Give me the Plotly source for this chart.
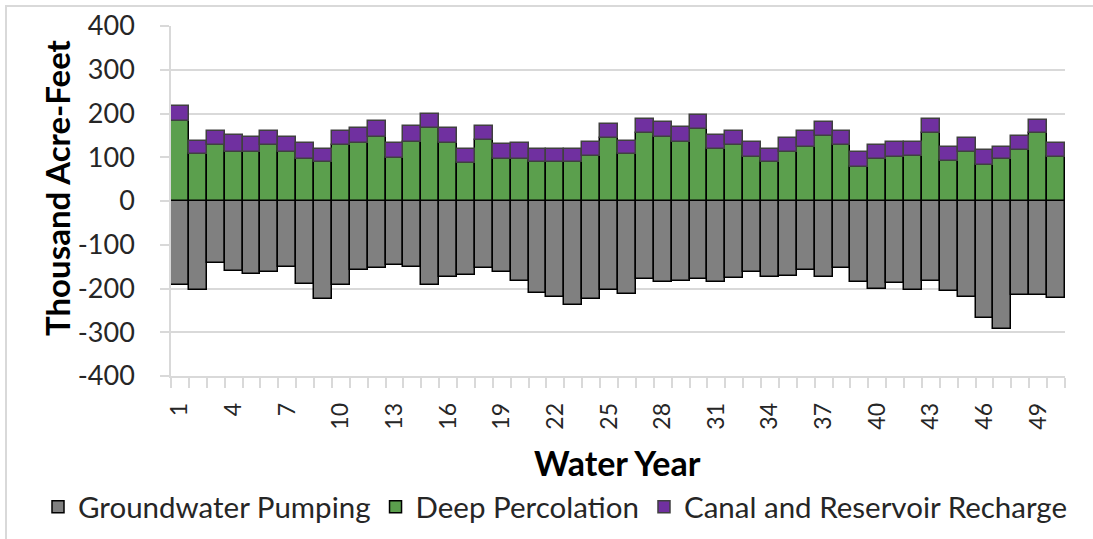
import plotly.graph_objects as go

years = list(range(1, 51))

groundwater_pumping = [
    -193, -203, -142, -160, -166, -162, -151, -190, -225, -193,
    -158, -154, -146, -151, -193, -174, -168, -154, -162, -182,
    -210, -219, -237, -224, -203, -213, -179, -186, -182, -179,
    -186, -176, -163, -174, -171, -158, -174, -152, -184, -200,
    -187, -203, -182, -205, -219, -267, -293, -215, -215, -221,
]

deep_percolation = [
    183, 107, 127, 113, 113, 127, 113, 95, 89, 127,
    133, 147, 98, 136, 168, 133, 86, 139, 95, 95,
    89, 89, 89, 104, 145, 107, 156, 147, 136, 165,
    119, 127, 101, 89, 113, 124, 148, 128, 78, 95,
    101, 104, 156, 92, 113, 83, 95, 116, 156, 101,
]

canal_reservoir_recharge = [
    35, 31, 34, 37, 33, 34, 33, 38, 31, 32,
    35, 35, 35, 35, 31, 35, 34, 32, 35, 38,
    29, 29, 29, 32, 32, 31, 31, 33, 34, 32,
    31, 34, 35, 31, 32, 35, 32, 31, 35, 32,
    35, 32, 32, 32, 32, 33, 29, 32, 30, 32,
]

x_tick_vals = list(range(1, 51, 3))
x_tick_labels = [str(v) for v in x_tick_vals]
y_tick_vals = list(range(-400, 401, 100))
y_tick_labels = [str(v) for v in y_tick_vals]

FONT = "Lato"
GRID = "#d9d9d9"

fig = go.Figure()
fig.add_trace(go.Bar(
    x=years, y=groundwater_pumping, name="Groundwater Pumping",
    marker=dict(color="#808080", line=dict(color="#000000", width=1.5)),
))
fig.add_trace(go.Bar(
    x=years, y=deep_percolation, name="Deep Percolation",
    marker=dict(color="#5b9f4d", line=dict(color="#000000", width=1.5)),
))
fig.add_trace(go.Bar(
    x=years, y=canal_reservoir_recharge, name="Canal and Reservoir Recharge",
    marker=dict(color="#7030a0", line=dict(color="#404040", width=1.5)),
))

fig.update_layout(
    width=1093, height=539,
    barmode="relative", bargap=0,
    plot_bgcolor="white", paper_bgcolor="white",
    margin=dict(l=171, r=28, t=26, b=163, autoexpand=False),
    font=dict(family=FONT, color="#262626"),
    showlegend=True,
    legend=dict(
        orientation="h", x=(38 - 171) / 894, y=(376 - 507) / 350,
        xanchor="left", yanchor="middle",
        font=dict(size=29.5, family=FONT, color="#262626"),
        traceorder="normal", bgcolor="rgba(0,0,0,0)",
    ),
    xaxis=dict(
        range=[0.5, 50.5],
        tickmode="array", tickvals=x_tick_vals, ticktext=x_tick_labels,
        tickangle=-90, tickfont=dict(size=23, color="#262626"),
        ticks="outside", ticklen=10, tickcolor="rgba(0,0,0,0)",
        ticklabelstandoff=6,
        showline=True, linecolor=GRID, linewidth=1.5,
        showgrid=False, zeroline=False,
        minor=dict(tick0=0.5, dtick=1, ticks="outside", ticklen=10,
                   tickcolor=GRID, tickwidth=1.5, showgrid=False),
    ),
    yaxis=dict(
        range=[-400, 400],
        tickmode="array", tickvals=y_tick_vals, ticktext=y_tick_labels,
        tickfont=dict(size=27, color="#262626"),
        ticks="outside", ticklen=9, tickcolor=GRID, tickwidth=1.5,
        ticklabelstandoff=20,
        showline=True, linecolor=GRID, linewidth=1.5,
        showgrid=True, gridcolor=GRID, gridwidth=1.5,
        zeroline=False,
    ),
    annotations=[
        dict(text="<b>Thousand Acre-Feet</b>", x=(57 - 171) / 894, y=(376 - 187) / 350,
             xref="paper", yref="paper",
             textangle=-90, showarrow=False, xanchor="center", yanchor="middle",
             font=dict(size=33, family=FONT, color="#000000")),
        dict(text="<b>Water Year</b>", x=(617 - 171) / 894, y=(376 - 462) / 350,
             xref="paper", yref="paper",
             showarrow=False, xanchor="center", yanchor="middle",
             font=dict(size=34, family=FONT, color="#000000")),
    ],
    shapes=[
        dict(type="rect", xref="paper", yref="paper",
             x0=(6 - 171) / 894, x1=(1110 - 171) / 894,
             y0=(376 - 560) / 350, y1=(376 - 6) / 350,
             line=dict(color=GRID, width=2), fillcolor="rgba(0,0,0,0)", layer="below"),
    ],
)

fig.write_html(
    "out.html",
    config={"displayModeBar": False},
    post_script="document.body.style.margin='0';document.body.style.padding='0';",
)
